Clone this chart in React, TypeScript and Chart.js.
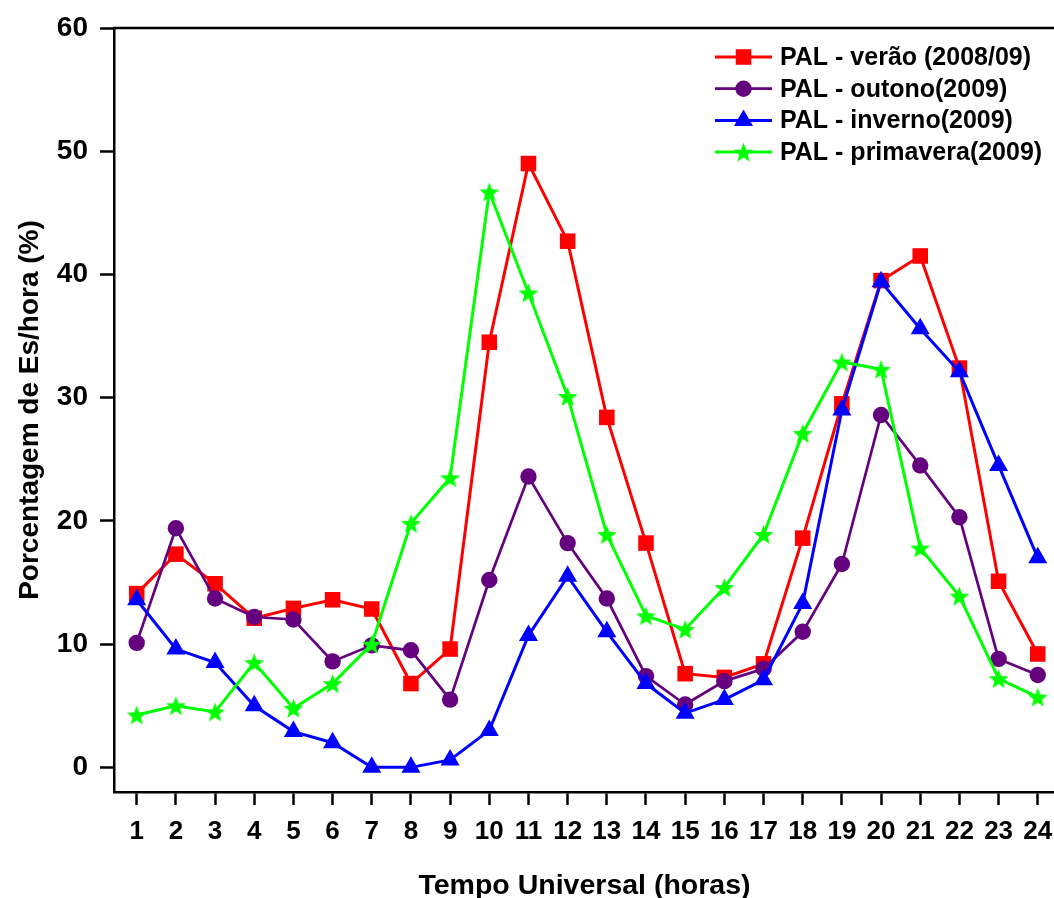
import React, { useEffect, useRef } from "react";
import { Chart, registerables } from "chart.js";

Chart.register(...registerables);

// Hour of day (UT)
const hours = [1, 2, 3, 4, 5, 6, 7, 8, 9, 10, 11, 12, 13, 14, 15, 16, 17, 18, 19, 20, 21, 22, 23, 24];

// Percentage of Es occurrence per hour, one list per season
const veraoValues = [14.1, 17.3, 14.9, 12.1, 12.9, 13.6, 12.85, 6.8, 9.6, 34.5, 49.0, 42.7, 28.4, 18.2, 7.6, 7.3, 8.4, 18.6, 29.5, 39.5, 41.5, 32.4, 15.1, 9.2];
const outonoValues = [10.1, 19.4, 13.7, 12.2, 12.0, 8.6, 9.9, 9.5, 5.5, 15.2, 23.6, 18.2, 13.7, 7.4, 5.1, 7.0, 8.0, 11.0, 16.5, 28.6, 24.5, 20.3, 8.8, 7.5];
const invernoValues = [13.6, 9.6, 8.5, 5.0, 2.9, 2.0, 0.0, 0.0, 0.6, 3.0, 10.7, 15.5, 11.0, 6.8, 4.4, 5.5, 7.1, 13.3, 29.0, 39.4, 35.6, 32.1, 24.5, 17.0];
const primaveraValues = [4.25, 5.0, 4.5, 8.5, 4.8, 6.8, 10.0, 19.8, 23.5, 46.7, 38.5, 30.1, 18.9, 12.3, 11.2, 14.6, 18.9, 27.1, 32.9, 32.3, 17.8, 13.9, 7.2, 5.7];

const seriesLabels = [
  "PAL - verão (2008/09)",
  "PAL - outono(2009)",
  "PAL - inverno(2009)",
  "PAL - primavera(2009)",
];

const yTickValues = [0, 10, 20, 30, 40, 50, 60];

const FONT = "'Liberation Sans', Arial, Helvetica, sans-serif";

function makeStar(color: string, outer: number, inner: number): HTMLCanvasElement {
  const size = Math.ceil(outer * 2 + 2);
  const c = document.createElement("canvas");
  c.width = size;
  c.height = size;
  const g = c.getContext("2d")!;
  const cx = size / 2;
  const cy = size / 2 + outer * 0.1;
  g.beginPath();
  for (let k = 0; k < 10; k++) {
    const r = k % 2 === 0 ? outer : inner;
    const a = -Math.PI / 2 + (k * Math.PI) / 5;
    const px = cx + r * Math.cos(a);
    const py = cy + r * Math.sin(a);
    if (k === 0) g.moveTo(px, py);
    else g.lineTo(px, py);
  }
  g.closePath();
  g.fillStyle = color;
  g.fill();
  return c;
}

function drawMarker(ctx: CanvasRenderingContext2D, style: any, radius: number, color: string, x: number, y: number) {
  ctx.save();
  ctx.fillStyle = color;
  if (style && typeof style === "object") {
    ctx.drawImage(style, x - style.width / 2, y - style.height / 2);
  } else if (style === "rect") {
    const s = Math.SQRT1_2 * radius;
    ctx.fillRect(x - s, y - s, 2 * s, 2 * s);
  } else if (style === "triangle") {
    ctx.beginPath();
    let a = 0;
    ctx.moveTo(x + Math.sin(a) * radius, y - Math.cos(a) * radius);
    a += (2 * Math.PI) / 3;
    ctx.lineTo(x + Math.sin(a) * radius, y - Math.cos(a) * radius);
    a += (2 * Math.PI) / 3;
    ctx.lineTo(x + Math.sin(a) * radius, y - Math.cos(a) * radius);
    ctx.closePath();
    ctx.fill();
  } else {
    ctx.beginPath();
    ctx.arc(x, y, radius, 0, Math.PI * 2);
    ctx.fill();
  }
  ctx.restore();
}

// Legend drawn inside the plot, top-right, with line + marker samples
const cornerLegend = {
  id: "cornerLegend",
  afterDatasetsDraw(chart: any) {
    const ctx: CanvasRenderingContext2D = chart.ctx;
    const lineX0 = 715;
    const lineX1 = 772;
    const textX = 780;
    const top = 57;
    const row = 31.7;
    chart.data.datasets.forEach((ds: any, i: number) => {
      const y = top + i * row;
      ctx.save();
      ctx.strokeStyle = ds.borderColor;
      ctx.lineWidth = ds.borderWidth;
      ctx.beginPath();
      ctx.moveTo(lineX0, y);
      ctx.lineTo(lineX1, y);
      ctx.stroke();
      drawMarker(ctx, ds.pointStyle, ds.pointRadius, ds.pointBackgroundColor, (lineX0 + lineX1) / 2, y);
      ctx.fillStyle = "#000";
      ctx.font = `bold 25px ${FONT}`;
      ctx.textAlign = "left";
      ctx.textBaseline = "middle";
      ctx.fillText(ds.label, textX, y + 1);
      ctx.restore();
    });
  },
};

// Top frame line
const topFrame = {
  id: "topFrame",
  afterDraw(chart: any) {
    const { ctx, chartArea } = chart;
    ctx.save();
    ctx.strokeStyle = "#000";
    ctx.lineWidth = 2.5;
    ctx.beginPath();
    ctx.moveTo(chartArea.left - 1.25, chartArea.top);
    ctx.lineTo(chartArea.right, chartArea.top);
    ctx.stroke();
    ctx.restore();
  },
};

export default function App() {
  const canvasRef = useRef<HTMLCanvasElement | null>(null);

  useEffect(() => {
    document.body.style.margin = "0";
    const canvas = canvasRef.current;
    if (!canvas) return;
    const star = makeStar("#00ff00", 10.5, 4.4);

    const toPoints = (vals: number[]) => hours.map((h, i) => ({ x: h, y: vals[i] }));

    const chart = new Chart(canvas, {
      type: "line",
      data: {
        datasets: [
          {
            label: seriesLabels[0],
            data: toPoints(veraoValues),
            borderColor: "#ff0000",
            backgroundColor: "#ff0000",
            pointBackgroundColor: "#ff0000",
            pointBorderWidth: 0,
            pointStyle: "rect",
            pointRadius: 11,
            borderWidth: 3,
            order: 4,
          },
          {
            label: seriesLabels[1],
            data: toPoints(outonoValues),
            borderColor: "#65007f",
            backgroundColor: "#65007f",
            pointBackgroundColor: "#65007f",
            pointBorderWidth: 0,
            pointStyle: "circle",
            pointRadius: 8.2,
            borderWidth: 2.7,
            order: 3,
          },
          {
            label: seriesLabels[2],
            data: toPoints(invernoValues),
            borderColor: "#0000ff",
            backgroundColor: "#0000ff",
            pointBackgroundColor: "#0000ff",
            pointBorderWidth: 0,
            pointStyle: "triangle",
            pointRadius: 11,
            borderWidth: 3,
            order: 2,
          },
          {
            label: seriesLabels[3],
            data: toPoints(primaveraValues),
            borderColor: "#00ff00",
            backgroundColor: "#00ff00",
            pointBackgroundColor: "#00ff00",
            pointBorderWidth: 0,
            pointStyle: star as any,
            pointRadius: 10.5,
            borderWidth: 3,
            order: 1,
          },
        ] as any,
      },
      options: {
        responsive: false,
        animation: false,
        layout: { padding: { top: 28, right: 0, bottom: 0, left: 0 } },
        plugins: {
          legend: { display: false },
          tooltip: { enabled: false },
        },
        elements: { line: { tension: 0 } },
        scales: {
          x: {
            type: "linear",
            min: 0.4205,
            max: 24.44,
            afterBuildTicks: (scale: any) => {
              scale.ticks = hours.map((h) => ({ value: h }));
            },
            afterFit: (scale: any) => {
              scale.height = 106;
              scale.paddingLeft = 0;
              scale.paddingRight = 0;
            },
            ticks: {
              color: "#000",
              font: { family: FONT, size: 26, weight: "bold" },
              padding: 11,
              maxRotation: 0,
              autoSkip: false,
              callback: (v: any) => String(v),
            },
            grid: {
              display: true,
              drawOnChartArea: false,
              drawTicks: true,
              tickLength: 13,
              tickColor: "#000",
              tickWidth: 2.5,
            },
            border: { display: true, color: "#000", width: 2.5 },
            title: {
              display: true,
              text: "Tempo Universal (horas)",
              color: "#000",
              font: { family: FONT, size: 28.5, weight: "bold" },
              padding: { top: 0, bottom: -5 },
            },
          },
          y: {
            type: "linear",
            min: -2,
            max: 60,
            afterBuildTicks: (scale: any) => {
              scale.ticks = yTickValues.map((v) => ({ value: v }));
            },
            afterFit: (scale: any) => {
              scale.width = 114;
              scale.paddingTop = 0;
              scale.paddingBottom = 0;
            },
            ticks: {
              color: "#000",
              font: { family: FONT, size: 28, weight: "bold" },
              padding: 12,
              callback: (v: any) => String(v),
            },
            grid: {
              display: true,
              drawOnChartArea: false,
              drawTicks: true,
              tickLength: 14,
              tickColor: "#000",
              tickWidth: 2.5,
            },
            border: { display: true, color: "#000", width: 2.5 },
            title: {
              display: true,
              text: "Porcentagem de Es/hora (%)",
              color: "#000",
              font: { family: FONT, size: 28, weight: "bold" },
              padding: { top: 13, bottom: 0 },
            },
          },
        },
      } as any,
      plugins: [cornerLegend, topFrame],
    });

    return () => chart.destroy();
  }, []);

  return (
    <div style={{ width: 1054, height: 898, overflow: "hidden", background: "#fff" }}>
      <canvas ref={canvasRef} width={1066} height={898} style={{ display: "block", width: 1066, height: 898 }} />
    </div>
  );
}
